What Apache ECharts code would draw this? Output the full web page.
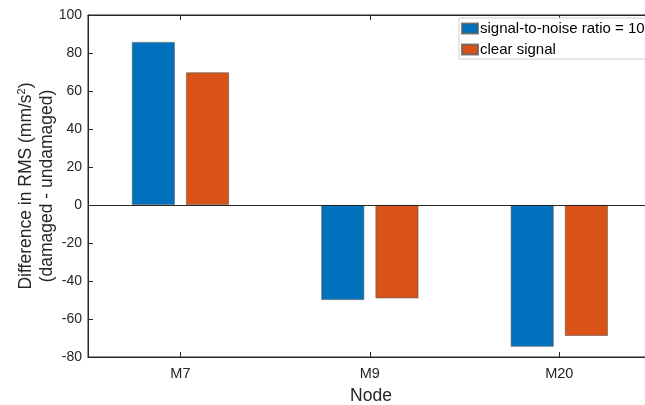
<!DOCTYPE html>
<html>
<head>
<meta charset="utf-8">
<script src="https://cdn.jsdelivr.net/npm/echarts@6/dist/echarts.min.js"></script>
<style>
  html, body { margin: 0; padding: 0; background: #fff; }
  #chart { width: 645px; height: 405px; }
</style>
</head>
<body>
<div id="chart"></div>
<script>
// Nodes and the RMS difference (damaged - undamaged) at each one
const nodes = ['M7', 'M9', 'M20'];
const nodePositions = [1, 2, 3];
const noisyValues = [85.8, -50.0, -74.6];
const cleanValues = [69.8, -49.1, -68.9];
const seriesNames = ['signal-to-noise ratio = 10', 'clear signal'];
const yTicks = { min: -80, max: 100, step: 20 };

const FONT = '"Liberation Sans", Arial, Helvetica, sans-serif';
const INK = '#262626';

const chart = echarts.init(document.getElementById('chart'), null, { renderer: 'canvas' });

const toPoints = vals => vals.map((v, i) => [nodePositions[i], v]);
const nodeLabel = v => nodes[nodePositions.indexOf(Math.round(v))] || '';

const barStyle = color => ({
  color: color,
  borderColor: 'rgba(90,90,90,0.75)',
  borderWidth: 0.8
});

chart.setOption({
  animation: false,
  textStyle: { fontFamily: FONT },
  grid: {
    left: 88, top: 15, width: 566, height: 342,
    containLabel: false,
    outerBoundsMode: 'none',
    show: true, borderColor: INK, borderWidth: 1, backgroundColor: 'transparent'
  },
  legend: {
    orient: 'vertical',
    left: 459, top: 18,
    padding: [3, 200, 2, 2],
    itemWidth: 16, itemHeight: 10, itemGap: 6,
    icon: 'rect',
    backgroundColor: '#fff',
    borderColor: '#cfcfcf', borderWidth: 1, borderRadius: 0,
    textStyle: { fontSize: 15, color: '#000', fontFamily: FONT, padding: [0, 0, 0, -3] },
    data: seriesNames
  },
  xAxis: [{
    type: 'value',
    min: 0.512, max: 3.5,
    name: 'Node', nameLocation: 'middle', nameGap: 30, nameMoveOverlap: false,
    nameTextStyle: { fontSize: 17.5, color: INK, fontFamily: FONT },
    splitLine: { show: false },
    axisLine: { show: true, onZero: false, lineStyle: { color: INK, width: 1 } },
    axisTick: { show: true, inside: true, length: 5, customValues: nodePositions, lineStyle: { color: INK } },
    axisLabel: { show: true, customValues: nodePositions, formatter: nodeLabel, fontSize: 14.5, color: INK, margin: 9, fontFamily: FONT }
  }, {
    type: 'value',
    position: 'top',
    min: 0.512, max: 3.5,
    splitLine: { show: false },
    axisLine: { show: true, onZero: false, lineStyle: { color: INK, width: 1 } },
    axisTick: { show: true, inside: true, length: 5, customValues: nodePositions, lineStyle: { color: INK } },
    axisLabel: { show: false }
  }],
  yAxis: {
    type: 'value',
    min: yTicks.min, max: yTicks.max, interval: yTicks.step,
    name: 'Difference in RMS (mm/s{sup|2})\n(damaged - undamaged)',
    nameLocation: 'middle', nameRotate: 90, nameGap: 30, nameMoveOverlap: false,
    nameTextStyle: {
      fontSize: 17.5, color: INK, fontFamily: FONT, lineHeight: 21, align: 'center',
      rich: { sup: { fontSize: 11, verticalAlign: 'top', lineHeight: 12, color: INK, fontFamily: FONT, padding: [0, 0, 8, 0] } }
    },
    splitLine: { show: false },
    axisLine: { show: true, onZero: false, lineStyle: { color: INK, width: 1 } },
    axisTick: { show: true, inside: true, length: 5, lineStyle: { color: INK } },
    axisLabel: { fontSize: 14, color: INK, margin: 6, fontFamily: FONT }
  },
  series: [{
    name: seriesNames[0],
    type: 'bar',
    xAxisIndex: 0,
    barWidth: 43,
    barGap: '26%',
    itemStyle: barStyle('#0072BD'),
    data: toPoints(noisyValues),
    markLine: {
      silent: true, symbol: 'none', animation: false,
      label: { show: false },
      lineStyle: { color: INK, width: 1, type: 'solid' },
      data: [{ yAxis: 0 }]
    },
    z: 2
  }, {
    name: seriesNames[1],
    type: 'bar',
    xAxisIndex: 0,
    barWidth: 43,
    barGap: '26%',
    itemStyle: barStyle('#D95319'),
    data: toPoints(cleanValues),
    z: 2
  }]
});
</script>
</body>
</html>
